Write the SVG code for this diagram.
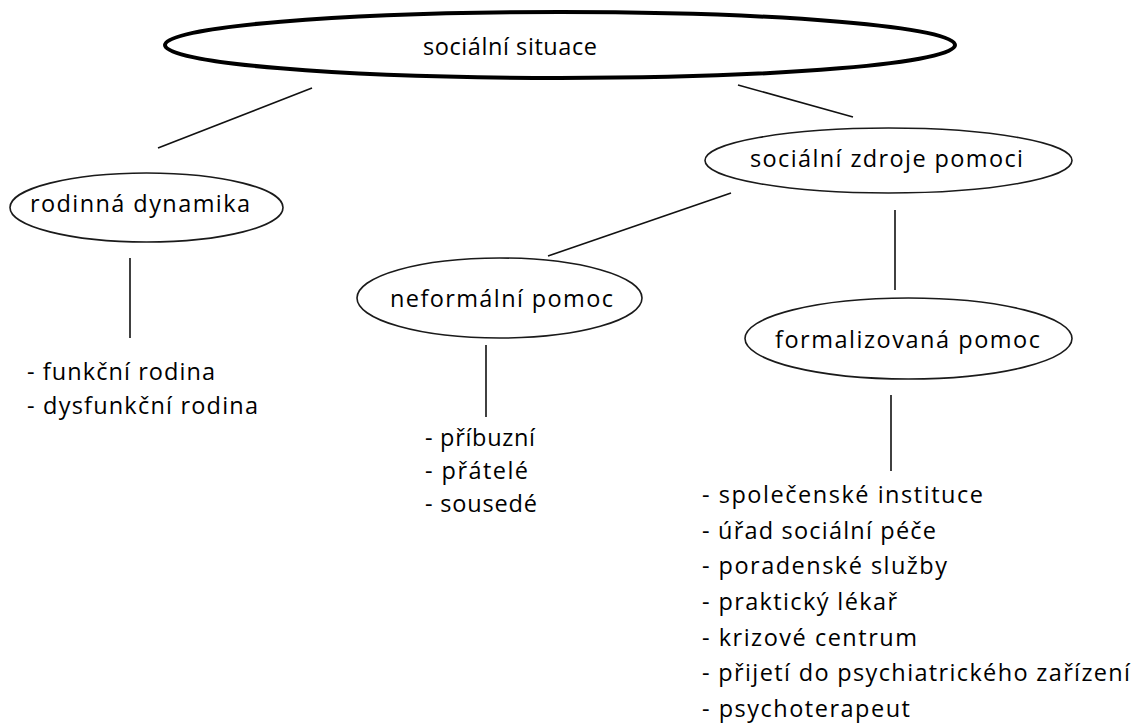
<svg xmlns="http://www.w3.org/2000/svg" width="1132" height="724" viewBox="0 0 1132 724">
<style>
text { font-family: "Open Sans", "Noto Sans", "DejaVu Sans", sans-serif; font-size: 23.5px; fill: #000; }
.node { fill: #fff; stroke: #1a1a1a; stroke-width: 1.6; }
.main { fill: #fff; stroke: #000; stroke-width: 4; }
.conn line { stroke: #111; stroke-width: 1.6; }
</style>
<rect width="1132" height="724" fill="#fff"/>
<g id="connectors" class="conn">
  <line x1="158" y1="148" x2="312" y2="88"/>
  <line x1="738" y1="85" x2="853" y2="117"/>
  <line x1="548" y1="256" x2="731" y2="193"/>
  <line x1="130" y1="258" x2="130" y2="338"/>
  <line x1="486" y1="345" x2="486" y2="417"/>
  <line x1="895" y1="210" x2="895" y2="290"/>
  <line x1="891" y1="395" x2="891" y2="471"/>
</g>
<g id="node-socialni-situace">
  <ellipse class="main" cx="560" cy="45" rx="395" ry="33"/>
  <text x="423" y="55" textLength="174">sociální situace</text>
</g>
<g id="node-rodinna-dynamika">
  <ellipse class="node" cx="146.5" cy="207.5" rx="136.5" ry="34.5"/>
  <text x="30" y="212" textLength="220">rodinná dynamika</text>
</g>
<g id="node-socialni-zdroje">
  <ellipse class="node" cx="888.5" cy="160.5" rx="183.5" ry="32.5"/>
  <text x="750" y="167" textLength="273">sociální zdroje pomoci</text>
</g>
<g id="node-neformalni">
  <ellipse class="node" cx="499.5" cy="298" rx="142.5" ry="40"/>
  <text x="390" y="307" textLength="223">neformální pomoc</text>
</g>
<g id="node-formalizovana">
  <ellipse class="node" cx="908.5" cy="338.5" rx="163.5" ry="40.5"/>
  <text x="775" y="348" textLength="265">formalizovaná pomoc</text>
</g>
<g id="list-rodina">
  <text x="27" y="380" textLength="188">- funkční rodina</text>
  <text x="27" y="414" textLength="231">- dysfunkční rodina</text>
</g>
<g id="list-neformalni">
  <text x="425" y="446" textLength="110">- příbuzní</text>
  <text x="425" y="479" textLength="103">- přátelé</text>
  <text x="425" y="512" textLength="112">- sousedé</text>
</g>
<g id="list-formalizovana">
  <text x="702" y="503" textLength="281">- společenské instituce</text>
  <text x="702" y="539" textLength="234">- úřad sociální péče</text>
  <text x="702" y="574" textLength="245">- poradenské služby</text>
  <text x="702" y="610" textLength="195">- praktický lékař</text>
  <text x="702" y="646" textLength="215">- krizové centrum</text>
  <text x="702" y="681" textLength="428">- přijetí do psychiatrického zařízení</text>
  <text x="702" y="717" textLength="208">- psychoterapeut</text>
</g>
</svg>
